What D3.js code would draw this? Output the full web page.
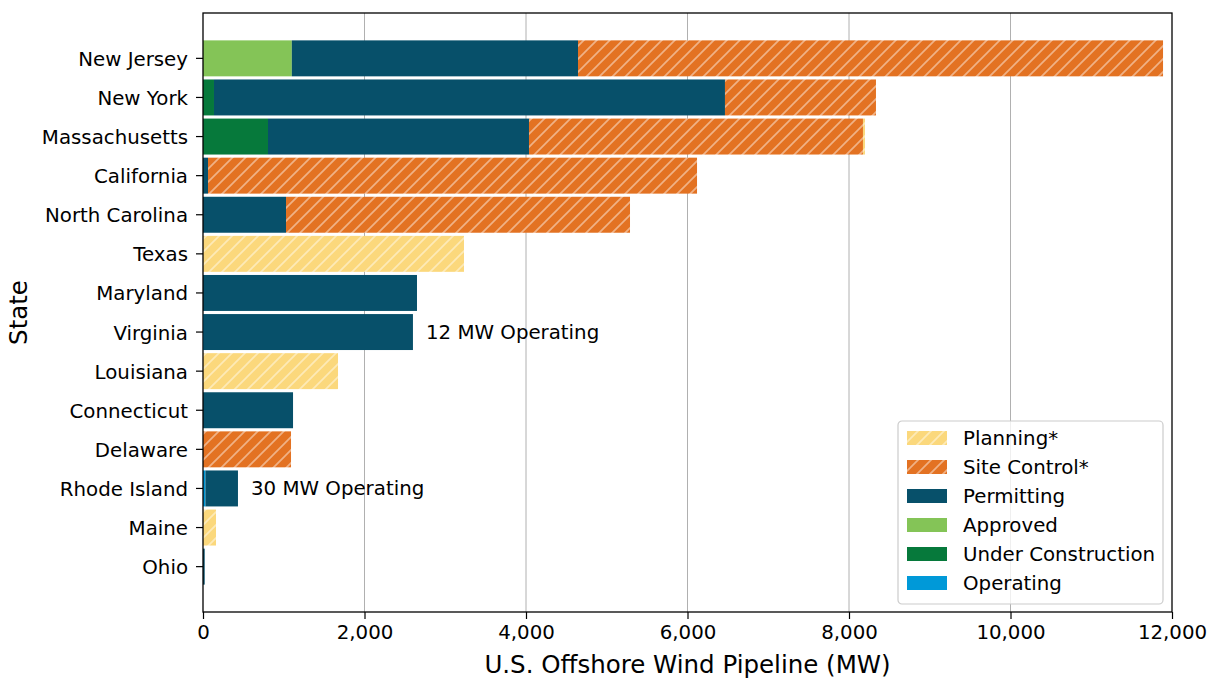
<!DOCTYPE html>
<html><head><meta charset="utf-8">
<script src="https://cdn.jsdelivr.net/npm/d3@7"></script>
<style>body{margin:0;background:#fff}svg text{font-family:"DejaVu Sans",sans-serif}</style>
</head><body><svg id="c" width="1209" height="679"></svg>
<script>
const states = ["New Jersey","New York","Massachusetts","California","North Carolina","Texas","Maryland","Virginia","Louisiana","Connecticut","Delaware","Rhode Island","Maine","Ohio"];
const stages = ["Operating","Under Construction","Approved","Permitting","Site Control*","Planning*"];
const operating         = [0,0,0,0,0,0,0,12,0,0,0,30,0,0];
const underConstruction = [0,136,805,0,0,0,0,0,0,0,0,0,0,0];
const approved          = [1100,0,0,0,0,0,0,0,0,0,0,0,0,0];
const permitting        = [3544,6328,3232,62,1028,0,2650,2588,0,1115,0,403,0,21];
const siteControl       = [7245,1870,4136,6056,4260,0,0,0,0,0,1090,0,0,0];
const planning          = [0,0,25,0,0,3232,0,0,1672,0,0,0,161,0];
const xTicks = [0,2000,4000,6000,8000,10000,12000];
const annotations = [{state:"Virginia",text:"12 MW Operating"},{state:"Rhode Island",text:"30 MW Operating"}];
const legendOrder = ["Planning*","Site Control*","Permitting","Approved","Under Construction","Operating"];

const colors = {"Operating":"#0099D8","Under Construction":"#06793B","Approved":"#84C457","Permitting":"#07506A","Site Control*":"#E37222","Planning*":"#FBD87C"};
const seriesVals = [operating,underConstruction,approved,permitting,siteControl,planning];

const rows = states.map((s,i)=>{const r={state:s}; stages.forEach((k,j)=>r[k]=seriesVals[j][i]); return r;});
const stack = d3.stack().keys(stages)(rows);

const svg = d3.select("#c");
const L=203,R=1172,T=13,B=612;
const x = d3.scaleLinear().domain([0,12000]).range([L,R]);
const y = d3.scaleBand().domain(states).range([T,B]).paddingInner(0.08).paddingOuter(0.7);

const defs = svg.append("defs");
const S=13;
["Site Control*","Planning*"].forEach((k,i)=>{
  const p = defs.append("pattern").attr("id","h"+i).attr("patternUnits","userSpaceOnUse").attr("width",S).attr("height",S);
  p.append("rect").attr("width",S).attr("height",S).attr("fill",colors[k]);
  p.append("path").attr("d",`M-1,${S+1} L${S+1},-1 M-1,1 L1,-1 M${S-1},${S+1} L${S+1},${S-1}`)
    .attr("stroke","#fff").attr("stroke-opacity",0.45).attr("stroke-width",1.7);
});
const fillOf = k => k==="Site Control*"?"url(#h0)":k==="Planning*"?"url(#h1)":colors[k];

// grid
svg.append("g").selectAll("line").data(xTicks.slice(1,-1)).join("line")
  .attr("x1",d=>x(d)).attr("x2",d=>x(d)).attr("y1",T).attr("y2",B)
  .attr("stroke","#b0b0b0").attr("stroke-width",1);

// bars
svg.append("g").selectAll("g").data(stack).join("g").attr("fill",d=>fillOf(d.key))
  .selectAll("rect").data(d=>d).join("rect")
  .attr("x",d=>x(d[0])).attr("width",d=>Math.max(0,x(d[1])-x(d[0])))
  .attr("y",d=>y(d.data.state)).attr("height",y.bandwidth());

// annotations
const totals = {}; rows.forEach(r=>totals[r.state]=d3.sum(stages,k=>r[k]));
svg.append("g").selectAll("text").data(annotations).join("text")
  .attr("x",d=>x(totals[d.state])+13).attr("y",d=>y(d.state)+y.bandwidth()/2)
  .attr("dy","0.35em").attr("font-size",19.8).attr("fill","#000").text(d=>d.text);

// axes
const xa = svg.append("g").attr("transform",`translate(0,${B})`)
  .call(d3.axisBottom(x).tickValues(xTicks).tickFormat(d3.format(",")).tickSizeOuter(0).tickSize(7).tickPadding(6));
xa.select(".domain").remove();
xa.selectAll("text").attr("font-size",19.8).attr("fill","#000");
xa.selectAll("line").attr("stroke","#000").attr("stroke-width",1.2);
const ya = svg.append("g").attr("transform",`translate(${L},0)`)
  .call(d3.axisLeft(y).tickSize(7).tickPadding(8).tickSizeOuter(0));
ya.select(".domain").remove();
ya.selectAll("text").attr("font-size",19.8).attr("fill","#000").attr("dy","0.38em");
ya.selectAll("line").attr("stroke","#000").attr("stroke-width",1.2);

// frame
svg.append("rect").attr("x",L).attr("y",T).attr("width",R-L).attr("height",B-T)
  .attr("fill","none").attr("stroke","#000").attr("stroke-width",1.3);

// labels
svg.append("text").attr("x",(L+R)/2).attr("y",673).attr("text-anchor","middle").attr("font-size",24.5).text("U.S. Offshore Wind Pipeline (MW)");
svg.append("text").attr("transform",`translate(27,${(T+B)/2}) rotate(-90)`).attr("text-anchor","middle").attr("font-size",24.5).text("State");

// legend
const lg = svg.append("g").attr("transform","translate(898,421)");
lg.append("rect").attr("width",265).attr("height",183).attr("rx",4).attr("fill","#fff").attr("fill-opacity",0.8).attr("stroke","#ccc").attr("stroke-width",1.2);
const li = lg.selectAll("g").data(legendOrder).join("g").attr("transform",(d,i)=>`translate(0,${17+i*29})`);
li.append("rect").attr("x",9).attr("y",-7).attr("width",40).attr("height",14).attr("fill",d=>fillOf(d));
li.append("text").attr("x",65).attr("dy","0.35em").attr("font-size",19.8).text(d=>d);
</script></body></html>
